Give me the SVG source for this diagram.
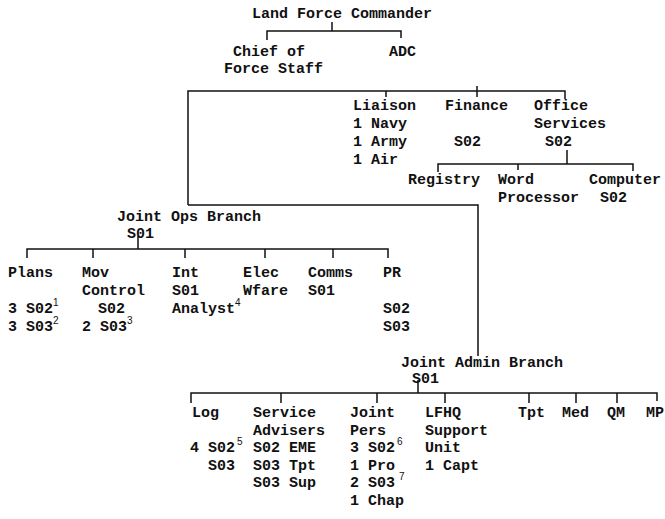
<svg xmlns="http://www.w3.org/2000/svg" width="665" height="519" viewBox="0 0 665 519">
<style>
text{font-family:"Liberation Mono","DejaVu Sans Mono",monospace;font-size:15px;font-weight:bold;fill:#111}
.sup{font-family:"Liberation Sans",Arial,sans-serif;font-size:10px;font-weight:normal}
.c{fill:none;stroke:#111;stroke-width:1.5}
</style>
<rect width="665" height="519" fill="#fff"/>
<g id="connectors" class="c">
<path d="M332,22 V31 M267,40 V31 H401 V38"/>
<path d="M188,205 V91 H565 V99 M386,91 V97 M477,86 V97"/>
<path d="M188,205 H478 V356"/>
<path d="M567,150 V164 M438,172 V164 H633 V171 M518,164 V170"/>
<path d="M138,236 V249 M27,258 V249 H388 V258 M93,249 V258 M185,249 V258 M265,249 V258 M333,249 V258"/>
<path d="M418,380 V393 M191,403 V393 H657 V401 M281,393 V403 M377,393 V403 M445,393 V403 M529,393 V403 M576,393 V403 M617,393 V403"/>
</g>
<g id="lfc"><text x="252" y="18">Land Force Commander</text></g>
<g id="cofs"><text x="233" y="56">Chief of</text><text x="224" y="73">Force Staff</text></g>
<g id="adc"><text x="389" y="56">ADC</text></g>
<g id="liaison"><text x="353" y="110">Liaison</text><text x="353" y="128">1 Navy</text><text x="353" y="146">1 Army</text><text x="353" y="164">1 Air</text></g>
<g id="finance"><text x="445" y="110">Finance</text><text x="454" y="146">S02</text></g>
<g id="office"><text x="534" y="110">Office</text><text x="534" y="128">Services</text><text x="545" y="146">S02</text></g>
<g id="registry"><text x="408" y="184">Registry</text></g>
<g id="wordproc"><text x="498" y="184">Word</text><text x="498" y="202">Processor</text></g>
<g id="computer"><text x="589" y="184">Computer</text><text x="600" y="202">S02</text></g>
<g id="jops"><text x="117" y="221">Joint Ops Branch</text><text x="127" y="238">S01</text></g>
<g id="plans"><text x="8" y="277">Plans</text><text x="8" y="313">3 S02<tspan class="sup" dy="-7">1</tspan></text><text x="8" y="331">3 S03<tspan class="sup" dy="-7">2</tspan></text></g>
<g id="movcontrol"><text x="82" y="277">Mov</text><text x="82" y="295">Control</text><text x="98" y="313">S02</text><text x="82" y="331">2 S03<tspan class="sup" dy="-7">3</tspan></text></g>
<g id="int"><text x="172" y="277">Int</text><text x="172" y="295">S01</text><text x="172" y="313">Analyst<tspan class="sup" dy="-7">4</tspan></text></g>
<g id="elec"><text x="243" y="277">Elec</text><text x="243" y="295">Wfare</text></g>
<g id="comms"><text x="308" y="277">Comms</text><text x="308" y="295">S01</text></g>
<g id="pr"><text x="383" y="277">PR</text><text x="383" y="313">S02</text><text x="383" y="331">S03</text></g>
<g id="jadmin"><text x="401" y="367">Joint Admin Branch</text><text x="412" y="383">S01</text></g>
<g id="log"><text x="192" y="417">Log</text><text x="190" y="452">4 S02<tspan class="sup" dx="2" dy="-7">5</tspan></text><text x="208" y="469.5">S03</text></g>
<g id="svcadv"><text x="253" y="417">Service</text><text x="253" y="434.5">Advisers</text><text x="253" y="452">S02 EME</text><text x="253" y="469.5">S03 Tpt</text><text x="253" y="487">S03 Sup</text></g>
<g id="jpers"><text x="350" y="417">Joint</text><text x="350" y="434.5">Pers</text><text x="350" y="452">3 S02<tspan class="sup" dx="2" dy="-7">6</tspan></text><text x="350" y="469.5">1 Pro</text><text x="350" y="487">2 S03<tspan class="sup" dx="4" dy="-7">7</tspan></text><text x="350" y="504.5">1 Chap</text></g>
<g id="lfhq"><text x="425" y="417">LFHQ</text><text x="425" y="434.5">Support</text><text x="425" y="452">Unit</text><text x="425" y="469.5">1 Capt</text></g>
<g id="tpt"><text x="518" y="417">Tpt</text></g>
<g id="med"><text x="562" y="417">Med</text></g>
<g id="qm"><text x="607" y="417">QM</text></g>
<g id="mp"><text x="646" y="417">MP</text></g>
</svg>
